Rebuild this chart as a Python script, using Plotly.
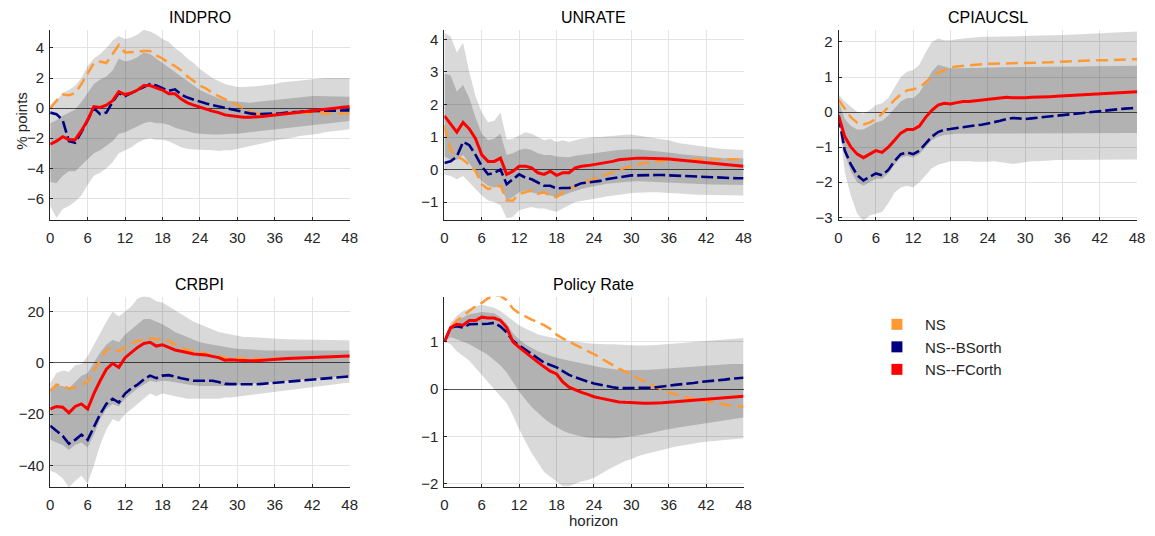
import plotly.graph_objects as go

# ---------------- data ----------------
h = list(range(49))
series_names = ["NS", "NS--BSorth", "NS--FCorth"]
titles = ["INDPRO", "UNRATE", "CPIAUCSL", "CRBPI", "Policy Rate"]

# INDPRO
ind_ns = [0.0,0.5,0.9,0.85,1.0,1.6,2.3,3.0,3.1,3.0, 3.6,4.2,3.7,3.7,3.75,3.8,3.8,3.5,3.3,3.0,
          2.8,2.5,2.1,1.8,1.5,1.3,1.0,0.8,0.6,0.35, 0.15,-0.05,-0.2,-0.35,-0.4,-0.45,-0.45,-0.4,-0.4,-0.35,
          -0.3,-0.3,-0.3,-0.3,-0.35,-0.35,-0.35,-0.35,-0.35]
ind_bs = [-0.3,-0.4,-0.8,-2.2,-2.3,-1.6,-0.8,0.0,-0.4,-0.3, 0.4,1.0,0.8,1.0,1.2,1.45,1.6,1.5,1.35,1.15,
          1.25,0.9,0.7,0.55,0.4,0.3,0.2,0.1,0.0,-0.1, -0.2,-0.3,-0.35,-0.4,-0.4,-0.4,-0.4,-0.35,-0.3,-0.3,
          -0.25,-0.2,-0.2,-0.2,-0.2,-0.18,-0.17,-0.16,-0.15]
ind_fc = [-2.4,-2.2,-1.9,-2.1,-2.1,-1.5,-0.8,0.1,0.05,0.2, 0.5,1.1,0.9,1.0,1.2,1.5,1.5,1.35,1.2,0.95,
          0.95,0.6,0.35,0.2,0.05,-0.05,-0.2,-0.3,-0.45,-0.5, -0.55,-0.6,-0.6,-0.6,-0.55,-0.5,-0.45,-0.4,-0.35,-0.3,
          -0.25,-0.2,-0.15,-0.1,-0.05,0.0,0.05,0.1,0.1]
ind_hi90 = [0.2,0.5,1.0,1.2,1.5,2.0,2.8,3.3,3.6,4.0, 4.5,4.8,4.6,4.7,4.9,5.2,5.1,4.9,4.6,4.4,
            4.0,3.7,3.3,3.0,2.6,2.3,2.0,1.8,1.6,1.5, 1.4,1.4,1.4,1.45,1.5,1.55,1.6,1.7,1.75,1.8,
            1.85,1.9,1.95,2.0,2.0,2.0,2.0,2.0,2.0]
ind_lo90 = [-6.5,-7.3,-6.7,-6.5,-6.2,-5.8,-5.1,-4.5,-4.3,-4.0, -3.6,-3.0,-2.8,-2.6,-2.3,-2.1,-2.0,-2.1,-2.1,-2.2,
            -2.4,-2.6,-2.7,-2.75,-2.8,-2.8,-2.8,-2.85,-2.8,-2.8, -2.7,-2.65,-2.55,-2.45,-2.35,-2.25,-2.15,-2.05,-2.0,-1.95,
            -1.85,-1.8,-1.75,-1.7,-1.6,-1.55,-1.5,-1.45,-1.4]
ind_hi68 = [-1.0,-0.8,-0.5,-0.3,-0.1,0.4,1.0,1.6,1.9,2.1, 2.5,3.3,3.1,3.2,3.4,3.7,3.6,3.3,3.0,2.7,
            2.4,2.1,1.8,1.5,1.2,1.0,0.8,0.65,0.5,0.45, 0.4,0.35,0.35,0.4,0.45,0.5,0.55,0.6,0.65,0.7,
            0.75,0.8,0.8,0.8,0.8,0.8,0.75,0.75,0.75]
ind_lo68 = [-4.9,-5.0,-4.5,-4.2,-4.2,-3.8,-3.4,-3.0,-2.8,-2.5, -2.2,-1.7,-1.6,-1.4,-1.2,-1.0,-0.9,-1.0,-1.0,-1.1,
            -1.3,-1.4,-1.55,-1.65,-1.7,-1.75,-1.75,-1.75,-1.75,-1.7, -1.7,-1.65,-1.6,-1.55,-1.5,-1.45,-1.4,-1.35,-1.3,-1.25,
            -1.2,-1.15,-1.1,-1.05,-1.0,-1.0,-0.95,-0.9,-0.85]

# UNRATE
un_ns = [1.35,0.6,0.4,0.3,0.15,-0.05,-0.45,-0.6,-0.55,-0.5, -0.95,-0.95,-0.75,-0.7,-0.65,-0.75,-0.7,-0.8,-0.85,-0.7,
         -0.6,-0.5,-0.42,-0.35,-0.3,-0.22,-0.15,-0.08,-0.02,0.05, 0.1,0.15,0.2,0.22,0.25,0.27,0.28,0.29,0.3,0.3,
         0.31,0.31,0.31,0.31,0.32,0.32,0.32,0.32,0.32]
un_bs = [0.2,0.25,0.4,0.85,0.75,0.45,0.1,-0.15,-0.1,0.0, -0.45,-0.3,-0.15,-0.25,-0.3,-0.4,-0.5,-0.5,-0.58,-0.57,
         -0.57,-0.5,-0.42,-0.4,-0.38,-0.35,-0.3,-0.27,-0.22,-0.2, -0.18,-0.18,-0.17,-0.17,-0.17,-0.17,-0.18,-0.19,-0.2,-0.2,
         -0.21,-0.22,-0.22,-0.23,-0.24,-0.25,-0.26,-0.27,-0.27]
un_fc = [1.65,1.4,1.15,1.45,1.25,0.95,0.45,0.25,0.25,0.35, -0.15,-0.05,0.1,0.1,0.05,-0.1,-0.15,-0.05,-0.18,-0.1,
         -0.1,0.05,0.1,0.12,0.15,0.2,0.22,0.25,0.3,0.32, 0.35,0.35,0.35,0.35,0.35,0.33,0.32,0.3,0.28,0.27,
         0.25,0.22,0.2,0.18,0.17,0.15,0.13,0.12,0.1]
un_hi90 = [4.2,4.1,3.6,3.9,3.0,2.25,1.75,1.45,1.5,1.75, 0.92,0.95,1.05,1.15,1.1,1.0,0.9,0.95,0.85,0.9,
           0.85,0.9,0.95,0.97,1.0,1.0,1.02,1.05,1.05,1.07, 1.08,1.05,1.03,1.0,0.98,0.95,0.9,0.85,0.8,0.78,
           0.75,0.72,0.7,0.67,0.65,0.63,0.62,0.6,0.6]
un_lo90 = [-0.15,-0.2,-0.3,-0.2,-0.4,-0.6,-0.8,-0.95,-1.0,-1.1, -1.5,-1.45,-1.25,-1.2,-1.15,-1.2,-1.2,-1.25,-1.3,-1.2,
           -1.1,-1.0,-0.97,-0.95,-0.9,-0.87,-0.83,-0.8,-0.77,-0.75, -0.72,-0.7,-0.7,-0.7,-0.7,-0.7,-0.72,-0.73,-0.75,-0.75,
           -0.77,-0.78,-0.8,-0.8,-0.8,-0.8,-0.8,-0.8,-0.8]
un_hi68 = [2.95,2.9,2.4,2.6,2.2,1.6,1.1,0.9,0.95,1.1, 0.45,0.5,0.6,0.65,0.6,0.5,0.45,0.45,0.4,0.4,
           0.38,0.42,0.45,0.48,0.5,0.52,0.55,0.58,0.6,0.62, 0.62,0.62,0.6,0.6,0.58,0.55,0.52,0.5,0.47,0.45,
           0.43,0.42,0.4,0.38,0.37,0.35,0.35,0.35,0.35]
un_lo68 = [0.4,0.3,0.3,0.45,0.2,-0.1,-0.35,-0.5,-0.55,-0.5, -0.95,-0.85,-0.7,-0.65,-0.7,-0.75,-0.75,-0.8,-0.85,-0.8,
           -0.72,-0.65,-0.6,-0.55,-0.5,-0.47,-0.44,-0.42,-0.4,-0.38, -0.37,-0.36,-0.36,-0.36,-0.37,-0.38,-0.39,-0.4,-0.41,-0.42,
           -0.43,-0.44,-0.45,-0.46,-0.47,-0.48,-0.48,-0.48,-0.48]

# CPIAUCSL
cpi_ns = [0.35,0.1,-0.15,-0.3,-0.35,-0.3,-0.2,-0.05,0.15,0.35, 0.5,0.62,0.65,0.7,0.85,1.0,1.12,1.2,1.27,1.3,
          1.32,1.33,1.35,1.37,1.38,1.38,1.39,1.4,1.4,1.4, 1.4,1.4,1.4,1.41,1.42,1.43,1.44,1.45,1.45,1.46,
          1.47,1.47,1.48,1.48,1.49,1.5,1.51,1.51,1.51]
cpi_bs = [-0.1,-1.1,-1.5,-1.8,-1.95,-1.85,-1.75,-1.8,-1.65,-1.4, -1.2,-1.15,-1.2,-1.1,-0.9,-0.7,-0.57,-0.5,-0.48,-0.45,
          -0.42,-0.4,-0.38,-0.36,-0.33,-0.3,-0.25,-0.2,-0.17,-0.18, -0.2,-0.18,-0.16,-0.14,-0.12,-0.1,-0.08,-0.06,-0.04,-0.02,
          -0.01,0.0,0.02,0.04,0.06,0.08,0.1,0.11,0.12]
cpi_fc = [-0.1,-0.7,-1.0,-1.2,-1.3,-1.2,-1.1,-1.15,-1.0,-0.8, -0.6,-0.5,-0.5,-0.4,-0.15,0.05,0.2,0.25,0.23,0.27,
          0.3,0.3,0.32,0.34,0.36,0.38,0.4,0.42,0.41,0.4, 0.41,0.42,0.42,0.43,0.44,0.45,0.46,0.47,0.48,0.49,
          0.5,0.51,0.52,0.53,0.54,0.55,0.56,0.57,0.58]
cpi_hi90 = [0.5,0.3,0.15,0.0,-0.05,0.05,0.2,0.25,0.4,0.7, 1.0,1.15,1.2,1.35,1.7,2.0,2.1,2.05,2.05,2.08,
            2.1,2.12,2.12,2.15,2.15,2.15,2.15,2.16,2.16,2.17, 2.17,2.18,2.18,2.18,2.19,2.2,2.2,2.21,2.22,2.23,
            2.24,2.25,2.26,2.27,2.28,2.29,2.3,2.3,2.3]
cpi_lo90 = [-0.2,-1.7,-2.4,-2.9,-3.1,-2.95,-2.9,-2.85,-2.6,-2.3, -2.15,-2.1,-2.15,-2.0,-1.8,-1.6,-1.5,-1.45,-1.4,-1.4,
            -1.4,-1.4,-1.42,-1.43,-1.42,-1.4,-1.43,-1.45,-1.48,-1.45, -1.42,-1.4,-1.4,-1.4,-1.38,-1.37,-1.36,-1.36,-1.36,-1.36,
            -1.36,-1.35,-1.35,-1.35,-1.35,-1.35,-1.35,-1.35,-1.35]
cpi_hi68 = [0.3,-0.2,-0.4,-0.5,-0.5,-0.4,-0.3,-0.25,-0.1,0.1, 0.3,0.4,0.4,0.55,0.85,1.15,1.35,1.3,1.25,1.25,
            1.25,1.25,1.26,1.27,1.27,1.27,1.28,1.28,1.28,1.28, 1.28,1.28,1.29,1.29,1.29,1.3,1.3,1.3,1.3,1.3,
            1.31,1.31,1.31,1.31,1.32,1.32,1.32,1.32,1.32]
cpi_lo68 = [-0.15,-1.2,-1.7,-2.0,-2.1,-2.0,-1.9,-1.9,-1.75,-1.5, -1.3,-1.25,-1.3,-1.2,-1.0,-0.8,-0.7,-0.65,-0.63,-0.62,
            -0.62,-0.62,-0.62,-0.62,-0.62,-0.62,-0.62,-0.62,-0.62,-0.62, -0.62,-0.62,-0.62,-0.62,-0.61,-0.61,-0.61,-0.61,-0.61,-0.61,
            -0.61,-0.6,-0.6,-0.6,-0.6,-0.6,-0.6,-0.6,-0.6]

# CRBPI
crb_ns = [-11,-8.5,-9,-10,-9.5,-8.5,-7.5,-3,1,5, 6,4.5,6,7.5,8.5,9,9.5,9,9.5,8.5,
          7,6,5,4.5,4,3.5,3,2.5,2,1.8, 1.7,1.6,1.5,1.5,1.5,1.5,1.5,1.6,1.7,1.8,
          1.9,2.0,2.1,2.2,2.3,2.4,2.5,2.5,2.5]
crb_bs = [-24.5,-26.5,-28.5,-31.5,-30,-28,-30,-25,-20,-16, -14,-15.5,-12,-10,-8.5,-6.5,-5,-6,-5,-4.8,
          -5.5,-6,-6.5,-7,-7,-7,-7,-7.5,-8.2,-8.3, -8.3,-8.4,-8.5,-8.4,-8.2,-8,-7.8,-7.6,-7.4,-7.2,
          -7,-6.8,-6.5,-6.3,-6.1,-5.9,-5.7,-5.5,-5.3]
crb_fc = [-18,-17,-17.3,-19.5,-17,-16,-18,-12,-7,-2.5, -0.2,-1.8,2,4,6,7.5,8,6.5,7,6,
          5,4.5,3.8,3.4,3.2,3.0,2.5,2.0,1.0,1.2, 1.0,0.8,0.8,0.8,1.0,1.3,1.5,1.6,1.7,1.8,
          1.9,2.0,2.1,2.2,2.3,2.4,2.5,2.6,2.6]
crb_hi90 = [-8,-4,-3,-3.5,-1,-0.5,2.5,7,12,16, 20,18,20,22,25,26,25.5,24,23.5,22,
            20.5,19,17.5,16,15,14,13,12,11.5,11, 10.5,10,10,9.8,9.6,9.5,9.4,9.3,9.2,9.1,
            9,9,9,9,9,9,9,8.8,8.7]
crb_lo90 = [-42,-43,-45,-48.5,-46,-44,-47,-40,-32,-26, -22,-23,-20,-18,-16,-14,-12,-13,-12,-12.5,
            -13,-13.5,-14,-14,-14,-14,-14,-14,-13.5,-13.5, -13,-12.8,-12.5,-12.2,-12,-11.6,-11.3,-11,-10.7,-10.4,
            -10.1,-9.8,-9.5,-9.2,-8.9,-8.6,-8.3,-8,-7.8]
crb_hi68 = [-10,-9,-9,-10,-7.5,-5,-4,0,4,7, 9,8,11,13,15,17,17,16,15,13.5,
            12,11,10,9,8,7.5,7,6.5,6,5.8, 5.5,5.3,5.1,5,4.9,4.8,4.8,4.8,4.8,4.8,
            4.8,4.8,4.8,4.8,4.8,4.8,4.8,4.8,4.8]
crb_lo68 = [-30,-31,-32,-34,-32,-31,-33,-28,-22,-18, -16,-17,-14,-12,-10,-8.5,-7,-7.5,-7,-7.2,
            -7.5,-8,-8.5,-8.7,-9,-9,-9,-9,-9,-8.8, -8.6,-8.5,-8.4,-8.2,-8,-7.8,-7.5,-7.3,-7,-6.8,
            -6.6,-6.4,-6.2,-6,-5.8,-5.6,-5.4,-5.2,-5]

# Policy Rate
pol_ns = [1.0,1.3,1.45,1.55,1.65,1.75,1.82,1.92,1.97,1.97, 1.88,1.7,1.6,1.53,1.47,1.41,1.35,1.27,1.15,1.07,
          1.0,0.93,0.86,0.8,0.74,0.66,0.58,0.5,0.43,0.37, 0.3,0.23,0.16,0.1,0.04,-0.02,-0.07,-0.11,-0.15,-0.18,
          -0.21,-0.23,-0.26,-0.28,-0.3,-0.33,-0.35,-0.37,-0.38]
pol_bs = [1.0,1.3,1.33,1.3,1.37,1.37,1.38,1.38,1.4,1.32, 1.2,1.02,0.92,0.83,0.74,0.64,0.56,0.51,0.46,0.38,
          0.3,0.25,0.2,0.16,0.12,0.09,0.06,0.04,0.02,0.02, 0.02,0.02,0.02,0.03,0.04,0.05,0.07,0.09,0.1,0.12,
          0.13,0.15,0.16,0.18,0.19,0.2,0.22,0.23,0.24]
pol_fc = [1.0,1.3,1.37,1.35,1.45,1.45,1.52,1.5,1.5,1.45, 1.3,1.0,0.88,0.77,0.67,0.57,0.47,0.38,0.32,0.15,
          0.04,-0.02,-0.07,-0.11,-0.16,-0.19,-0.22,-0.25,-0.27,-0.28, -0.29,-0.29,-0.3,-0.3,-0.3,-0.29,-0.28,-0.27,-0.26,-0.25,
          -0.24,-0.23,-0.22,-0.21,-0.2,-0.19,-0.18,-0.17,-0.15]
pol_hi90 = [1.0,1.4,1.55,1.65,1.7,1.75,1.78,1.75,1.72,1.65, 1.55,1.45,1.35,1.28,1.22,1.16,1.12,1.1,1.08,1.05,
            1.02,1.0,0.98,0.97,0.96,0.95,0.95,0.95,0.94,0.93, 0.92,0.92,0.92,0.92,0.93,0.94,0.95,0.96,0.97,0.98,
            0.99,1.0,1.01,1.02,1.03,1.04,1.05,1.06,1.08]
pol_lo90 = [1.0,0.95,0.8,0.7,0.6,0.45,0.3,0.15,0.0,-0.15, -0.3,-0.55,-0.85,-1.1,-1.35,-1.55,-1.75,-1.85,-1.95,-2.05,
            -2.05,-2.0,-1.95,-1.92,-1.88,-1.8,-1.72,-1.65,-1.58,-1.52, -1.48,-1.42,-1.38,-1.35,-1.32,-1.28,-1.25,-1.22,-1.2,-1.17,
            -1.15,-1.13,-1.11,-1.1,-1.08,-1.07,-1.06,-1.05,-1.04]
pol_hi68 = [1.0,1.3,1.45,1.52,1.58,1.6,1.63,1.62,1.6,1.52, 1.38,1.18,1.05,0.95,0.87,0.8,0.75,0.7,0.66,0.63,
            0.6,0.57,0.54,0.51,0.48,0.46,0.44,0.42,0.41,0.4, 0.4,0.4,0.4,0.41,0.42,0.43,0.44,0.45,0.46,0.47,
            0.48,0.49,0.5,0.51,0.52,0.52,0.53,0.53,0.53]
pol_lo68 = [1.0,1.1,1.05,1.0,0.95,0.88,0.8,0.72,0.62,0.5, 0.35,0.15,-0.05,-0.22,-0.38,-0.5,-0.62,-0.72,-0.8,-0.88,
            -0.93,-0.97,-1.0,-1.02,-1.03,-1.04,-1.04,-1.04,-1.03,-1.02, -1.0,-0.98,-0.96,-0.93,-0.9,-0.87,-0.85,-0.82,-0.8,-0.78,
            -0.75,-0.73,-0.71,-0.69,-0.67,-0.65,-0.63,-0.62,-0.6]

x_ticks = [0, 6, 12, 18, 24, 30, 36, 42, 48]

# ---------------- figure ----------------
W, H = 1155, 536
colors = {"NS": "#ff9933", "NS--BSorth": "#000080", "NS--FCorth": "#ff0000"}
dashes = {"NS": "12px,6px", "NS--BSorth": "12px,4px", "NS--FCorth": "solid"}
widths = {"NS": 2.5, "NS--BSorth": 2.6, "NS--FCorth": 3}

panels = [
    dict(ns=ind_ns, bs=ind_bs, fc=ind_fc, lo90=ind_lo90, hi90=ind_hi90, lo68=ind_lo68, hi68=ind_hi68,
         yr=[-7.45, 5.21], yt=[-6, -4, -2, 0, 2, 4], px=(46.7, 349.3), py=(30, 222.3)),
    dict(ns=un_ns, bs=un_bs, fc=un_fc, lo90=un_lo90, hi90=un_hi90, lo68=un_lo68, hi68=un_hi68,
         yr=[-1.56, 4.3], yt=[-1, 0, 1, 2, 3, 4], px=(445, 747.3), py=(30, 222.3)),
    dict(ns=cpi_ns, bs=cpi_bs, fc=cpi_fc, lo90=cpi_lo90, hi90=cpi_hi90, lo68=cpi_lo68, hi68=cpi_hi68,
         yr=[-3.085, 2.35], yt=[-3, -2, -1, 0, 1, 2], px=(843.3, 1145), py=(30, 222.3)),
    dict(ns=crb_ns, bs=crb_bs, fc=crb_fc, lo90=crb_lo90, hi90=crb_hi90, lo68=crb_lo68, hi68=crb_hi68,
         yr=[-48.4, 25.8], yt=[-40, -20, 0, 20], px=(46.7, 349.3), py=(299.3, 491.7)),
    dict(ns=pol_ns, bs=pol_bs, fc=pol_fc, lo90=pol_lo90, hi90=pol_hi90, lo68=pol_lo68, hi68=pol_hi68,
         yr=[-2.07, 1.956], yt=[-2, -1, 0, 1], px=(445, 747.3), py=(299.3, 491.7)),
]

fig = go.Figure()
layout = dict(width=W, height=H, autosize=False,
              margin=dict(l=0, r=0, t=0, b=0),
              paper_bgcolor="white", plot_bgcolor="white",
              font=dict(family="Liberation Sans, Arial, sans-serif", size=15, color="#262626"),
              showlegend=True)
annotations = []

for i, p in enumerate(panels):
    k = "" if i == 0 else str(i + 1)
    xa, ya = "x" + k, "y" + k
    # bands
    fig.add_trace(go.Scatter(x=h + h[::-1], y=p["hi90"] + p["lo90"][::-1], xaxis=xa, yaxis=ya,
                             fill="toself", fillcolor="rgba(0,0,0,0.15)", line=dict(width=0),
                             mode="lines", showlegend=False, hoverinfo="skip"))
    fig.add_trace(go.Scatter(x=h + h[::-1], y=p["hi68"] + p["lo68"][::-1], xaxis=xa, yaxis=ya,
                             fill="toself", fillcolor="rgba(0,0,0,0.175)", line=dict(width=0),
                             mode="lines", showlegend=False, hoverinfo="skip"))
    for name, key in zip(series_names, ["ns", "bs", "fc"]):
        fig.add_trace(go.Scatter(x=h, y=p[key], xaxis=xa, yaxis=ya, mode="lines", name=name,
                                 line=dict(color=colors[name], width=widths[name], dash=dashes[name]),
                                 showlegend=False))
    x0, x1 = p["px"]
    y0, y1 = p["py"]
    layout["xaxis" + k] = dict(domain=[x0 / W, x1 / W], anchor=ya, range=[0, 48],
                               tickmode="array", tickvals=x_ticks, showgrid=True, gridcolor="#e3e3e3",
                               zeroline=False, showline=True, linecolor="#262626", linewidth=1,
                               ticks="inside", ticklen=3, tickcolor="#262626",
                               tickfont=dict(size=15, color="#262626"), ticklabelstandoff=4)
    layout["yaxis" + k] = dict(domain=[1 - y1 / H, 1 - y0 / H], anchor=xa, range=p["yr"],
                               tickmode="array", tickvals=p["yt"], showgrid=True, gridcolor="#e3e3e3",
                               zeroline=True, zerolinecolor="#555555", zerolinewidth=1.2,
                               showline=True, linecolor="#262626", linewidth=1,
                               ticks="inside", ticklen=3, tickcolor="#262626",
                               tickfont=dict(size=15, color="#262626"), ticklabelstandoff=2)
    annotations.append(dict(text=titles[i], xref="paper", yref="paper",
                            x=(x0 + x1) / 2 / W, y=1 - (y0 - 12) / H, xanchor="center", yanchor="middle",
                            showarrow=False, font=dict(size=16, color="#000000")))

# legend-only entries (square markers)
for name in series_names:
    fig.add_trace(go.Scatter(x=[None], y=[None], mode="markers", name=name,
                             marker=dict(symbol="square", size=11, color=colors[name]),
                             legendgroup=name, showlegend=True))

annotations.append(dict(text="% points", xref="paper", yref="paper", x=18 / W, y=1 - 122 / H,
                        textangle=-90, showarrow=False, xanchor="center", yanchor="middle",
                        font=dict(size=15, color="#262626")))
annotations.append(dict(text="horizon", xref="paper", yref="paper", x=596 / W, y=1 - 525 / H,
                        showarrow=False, xanchor="center", yanchor="middle",
                        font=dict(size=15, color="#262626")))

layout["annotations"] = annotations
layout["legend"] = dict(x=874 / W, y=1 - 311 / H, xanchor="left", yanchor="top",
                        bgcolor="rgba(0,0,0,0)", borderwidth=0, itemwidth=46,
                        tracegroupgap=0, font=dict(size=15, color="#262626"))
fig.update_layout(**layout)

fig.write_html("out.html", config={"displayModeBar": False},
               post_script="document.body.style.margin='0';")
